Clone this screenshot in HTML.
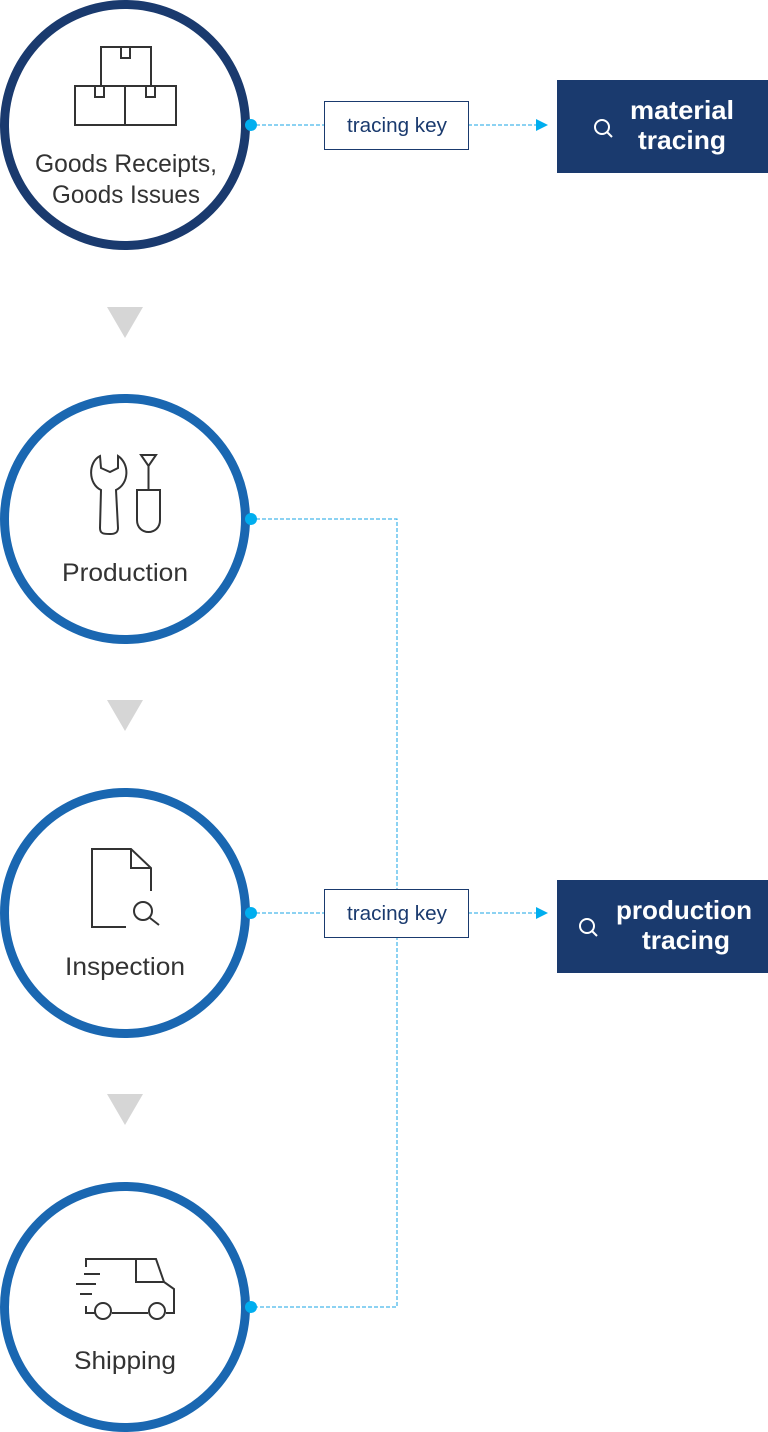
<!DOCTYPE html>
<html><head><meta charset="utf-8"><style>
html,body{margin:0;padding:0;background:#fff;}
svg{display:block;}
text{font-family:"Liberation Sans",sans-serif;}
</style></head><body>
<svg width="768" height="1432" viewBox="0 0 768 1432" xmlns="http://www.w3.org/2000/svg">
<circle cx="125" cy="125" r="120.5" fill="#fff" stroke="#1a3a6e" stroke-width="9"/>
<circle cx="125" cy="519" r="120.5" fill="#fff" stroke="#1a67b1" stroke-width="9"/>
<circle cx="125" cy="913" r="120.5" fill="#fff" stroke="#1a67b1" stroke-width="9"/>
<circle cx="125" cy="1307" r="120.5" fill="#fff" stroke="#1a67b1" stroke-width="9"/>
<polygon points="107,307 143,307 125,338" fill="#d6d6d6"/>
<polygon points="107,700 143,700 125,731" fill="#d6d6d6"/>
<polygon points="107,1094 143,1094 125,1125" fill="#d6d6d6"/>
<g fill="#333" font-size="25" text-anchor="middle">
<text x="126" y="172" textLength="182" lengthAdjust="spacingAndGlyphs">Goods Receipts,</text>
<text x="126" y="203" textLength="148" lengthAdjust="spacingAndGlyphs">Goods Issues</text>
<text x="125" y="581" textLength="126" lengthAdjust="spacingAndGlyphs">Production</text>
<text x="125" y="975" textLength="120" lengthAdjust="spacingAndGlyphs">Inspection</text>
<text x="125" y="1369" textLength="102" lengthAdjust="spacingAndGlyphs">Shipping</text>
</g>
<g fill="none" stroke="#333" stroke-width="2">
<rect x="101" y="47" width="50" height="39"/>
<rect x="75" y="86" width="50" height="39"/>
<rect x="125" y="86" width="51" height="39"/>
<rect x="121" y="47" width="9" height="11"/>
<rect x="95" y="86" width="9" height="11"/>
<rect x="146" y="86" width="9" height="11"/>
<path d="M100,456 C88,462 88,484 101,490 L100,528 C100,534 104,534 110,534 C116,534 118,532 118,528 L116,490 C129,484 130,464 118,456 L118,468 L110,472 L101,468 Z"/>
<path d="M141,455 L156,455 L148.5,466 Z M148.5,466 L148.5,490"/>
<path d="M137,490 L160,490 L160,520 C160,536 137,536 137,520 Z"/>
<path d="M126,927 L92,927 L92,849 L131,849 L151,868 L151,891 M131,849 L131,868 L151,868"/>
<circle cx="143" cy="911" r="9"/>
<path d="M150,918 L159,925"/>
<path d="M86,1267 L86,1259 L136,1259 L156,1259 L164,1282 L174,1289 L174,1313 L166,1313 M148,1313 L112,1313 M95,1313 L86,1313 L86,1306 M136,1259 L136,1282 L164,1282"/>
<path d="M84,1274 L100,1274 M76,1284 L96,1284 M80,1294 L92,1294"/>
<circle cx="103" cy="1311" r="8"/>
<circle cx="157" cy="1311" r="8"/>
</g>
<g stroke="#1aa6e4" stroke-width="1" stroke-dasharray="4,2" fill="none">
<path d="M250,125 L324,125 M468,125 L540,125"/>
<path d="M250,519 L397,519 L397,1307 L250,1307"/>
<path d="M250,913 L324,913 M468,913 L540,913"/>
</g>
<g fill="#00aeef">
<circle cx="251" cy="125" r="6"/>
<circle cx="251" cy="519" r="6"/>
<circle cx="251" cy="913" r="6"/>
<circle cx="251" cy="1307" r="6"/>
<polygon points="536,119 548,125 536,131"/>
<polygon points="536,907 548,913 536,919"/>
</g>
<rect x="324.5" y="101.5" width="144" height="48" fill="#fff" stroke="#1a3a6e"/>
<rect x="324.5" y="889.5" width="144" height="48" fill="#fff" stroke="#1a3a6e"/>
<g fill="#1a3a6e" font-size="20" text-anchor="middle">
<text x="397" y="132" textLength="100" lengthAdjust="spacingAndGlyphs">tracing key</text>
<text x="397" y="920" textLength="100" lengthAdjust="spacingAndGlyphs">tracing key</text>
</g>
<rect x="557" y="80" width="211" height="93" fill="#1a3a6e"/>
<rect x="557" y="880" width="211" height="93" fill="#1a3a6e"/>
<g fill="none" stroke="#fff" stroke-width="2">
<circle cx="602" cy="127" r="7"/><path d="M607,132 L612,137"/>
<circle cx="587" cy="926" r="7"/><path d="M592,931 L597,936"/>
</g>
<g fill="#fff" font-size="26" font-weight="bold" text-anchor="middle">
<text x="682" y="119" textLength="104" lengthAdjust="spacingAndGlyphs">material</text>
<text x="682" y="149" textLength="88" lengthAdjust="spacingAndGlyphs">tracing</text>
<text x="684" y="919" textLength="136" lengthAdjust="spacingAndGlyphs">production</text>
<text x="686" y="949" textLength="88" lengthAdjust="spacingAndGlyphs">tracing</text>
</g>
</svg>
</body></html>
